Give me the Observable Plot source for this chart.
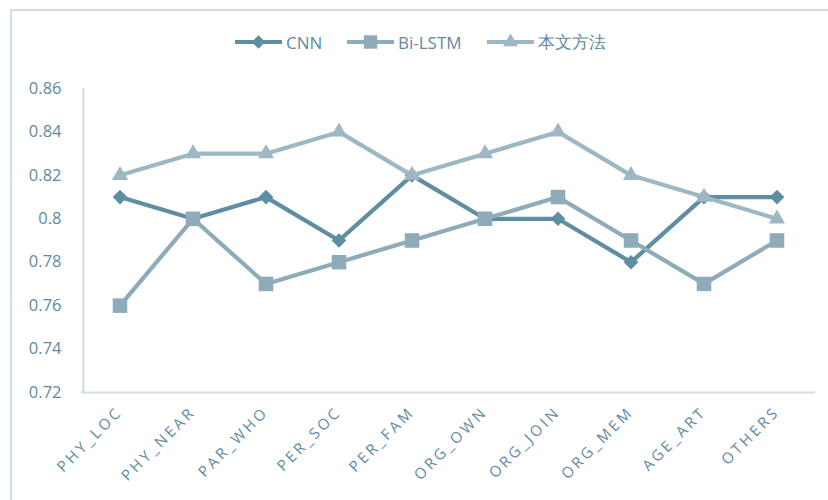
<!DOCTYPE html>
<html>
<head>
<meta charset="utf-8">
<script src="https://cdn.jsdelivr.net/npm/d3@7"></script>
<script src="https://cdn.jsdelivr.net/npm/@observablehq/plot@0.6"></script>
<style>
  html, body { margin: 0; padding: 0; background: #fff; }
  #wrap { position: relative; width: 828px; height: 500px; overflow: hidden; font-family: "Open Sans", "Noto Sans", sans-serif; }
  #frame { position: absolute; left: 10px; top: 9px; width: 900px; height: 600px; border: 2px solid #d3dde4; box-sizing: border-box; }
  #legend { position: absolute; left: 0; top: 0; width: 828px; height: 70px; }
  #legend .item { position: absolute; top: 29px; height: 26px; display: flex; align-items: center; font-size: 17px; color: #5f8aa0; }
  #legend svg { margin-right: 4px; }
  #chart { position: absolute; left: 0; top: 70px; }
</style>
</head>
<body>
<div id="wrap">
  <div id="frame"></div>
  <div id="legend"></div>
  <div id="chart"></div>
</div>
<script>
const categories = ["PHY_LOC","PHY_NEAR","PAR_WHO","PER_SOC","PER_FAM","ORG_OWN","ORG_JOIN","ORG_MEM","AGE_ART","OTHERS"];
const seriesNames = ["CNN","Bi-LSTM","本文方法"];
const cnn    = [0.81,0.80,0.81,0.79,0.82,0.80,0.80,0.78,0.81,0.81];
const bilstm = [0.76,0.80,0.77,0.78,0.79,0.80,0.81,0.79,0.77,0.79];
const ours   = [0.82,0.83,0.83,0.84,0.82,0.83,0.84,0.82,0.81,0.80];
const yTicks = [0.72,0.74,0.76,0.78,0.80,0.82,0.84,0.86];
const yTickLabels = ["0.72","0.74","0.76","0.78","0.8","0.82","0.84","0.86"];

const colors = {"CNN":"#5f8da1","Bi-LSTM":"#8eabba","本文方法":"#9db7c4"};
const symbols = {"CNN":"diamond2","Bi-LSTM":"square","本文方法":"triangle"};
const radii = {"CNN":6.6,"Bi-LSTM":8.2,"本文方法":6.0};

const valuesBySeries = [cnn, bilstm, ours];
const data = [];
seriesNames.forEach((s, si) => {
  categories.forEach((c, i) => data.push({series: s, cat: c, value: valuesBySeries[si][i]}));
});

const W = 828, ML = 81, MR = 13;
const bandW = (W - ML - MR) / categories.length;
const textColor = "#5f8aa0";
const marks = [
  Plot.ruleY([0.72], {stroke: "#d3dde4", strokeWidth: 2}),
  Plot.ruleX([categories[0]], {x: d => d, y1: 0.72, y2: 0.86, dx: -bandW / 2, stroke: "#d3dde4", strokeWidth: 2}),
  Plot.axisY({ticks: yTicks, tickFormat: (d) => yTickLabels[yTicks.indexOf(d)], tickSize: 0, tickPadding: 20, fill: textColor, fontSize: 16.5, label: null}),
  Plot.axisX({tickSize: 0, tickRotate: -45, tickPadding: 17, fill: textColor, fontSize: 15, label: null, textAnchor: "end"}),
];
seriesNames.forEach((s) => {
  const d = data.filter(r => r.series === s);
  marks.push(Plot.line(d, {x: "cat", y: "value", stroke: colors[s], strokeWidth: 4.2}));
  marks.push(Plot.dot(d, {x: "cat", y: "value", fill: colors[s], stroke: "none", symbol: () => symbols[s], r: radii[s]}));
});

const chart = Plot.plot({
  width: W,
  height: 430,
  marginLeft: ML,
  marginRight: MR,
  marginTop: 18,
  marginBottom: 108,
  style: {fontFamily: "'Open Sans', 'Noto Sans', sans-serif", background: "transparent", overflow: "visible"},
  x: {type: "band", domain: categories, padding: 0},
  y: {domain: [0.72, 0.86]},
  marks
});
document.getElementById("chart").appendChild(chart);

// Wide letter spacing on the rotated category labels
chart.querySelectorAll("g[aria-label='x-axis tick label'] text").forEach(t => t.setAttribute("letter-spacing", "3"));

// Legend
const legend = document.getElementById("legend");
const legendPos = {"CNN": 235, "Bi-LSTM": 347, "本文方法": 487};
seriesNames.forEach((s) => {
  const item = document.createElement("div");
  item.className = "item";
  item.style.left = legendPos[s] + "px";
  const sym = d3.symbol().type(s === "CNN" ? d3.symbolDiamond2 : s === "Bi-LSTM" ? d3.symbolSquare : d3.symbolTriangle)
    .size(Math.PI * radii[s] * radii[s] * 0.85)();
  item.innerHTML = `<svg width="47" height="26"><line x1="0" x2="47" y1="13" y2="13" stroke="${colors[s]}" stroke-width="4.2"/><path d="${sym}" transform="translate(23.5,13)" fill="${colors[s]}"/></svg><span>${s}</span>`;
  legend.appendChild(item);
});
</script>
</body>
</html>
